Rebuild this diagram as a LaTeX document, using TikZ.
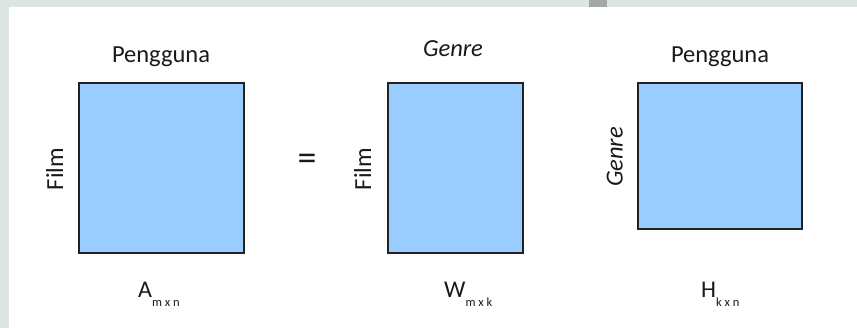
\documentclass[tikz,border=0pt]{standalone}
\usepackage{fontspec}
\setmainfont{Carlito}
\definecolor{bgc}{HTML}{DCE5DF}
\definecolor{blobc}{HTML}{A3A7A5}
\definecolor{matfill}{HTML}{99CCFF}
\definecolor{edgec}{HTML}{222222}
\definecolor{txt}{HTML}{1A1A1A}
\begin{document}
\begin{tikzpicture}[x=1pt,y=-1pt,
  mat/.style={draw=edgec, fill=matfill, line width=1.8pt, inner sep=0pt},
  lbl/.style={text=txt, inner sep=0pt, font=\fontsize{24.5}{27}\selectfont, anchor=base},
  vlbl/.style={lbl, rotate=90},
  matname/.style={text=txt, inner sep=0pt, font=\fontsize{24}{27}\selectfont, anchor=base west}]
\newcommand{\mysub}[1]{\raisebox{-9pt}{\fontsize{12.5}{12.5}\selectfont #1}}
\useasboundingbox (0,0) rectangle (857,328);
\fill[bgc] (0,0) rectangle (857,328);
\fill[blobc] (589,0) rectangle (607,7);
\fill[white] (9,7) rectangle (857,328);
% matrices
\node[mat, minimum width=165pt, minimum height=170pt] (A) at (161.5,168) {};
\node[mat, minimum width=135pt, minimum height=170pt] (W) at (455.5,168) {};
\node[mat, minimum width=164pt, minimum height=146pt] (H) at (720,156) {};
% top labels
\node[lbl] (Atop) at (161,63) {Pengguna};
\node[lbl] (Wtop) at (453,57) {\itshape Genre};
\node[lbl] (Htop) at (720,63) {Pengguna};
% side labels
\node[vlbl] (Aside) at (63,169) {Film};
\node[vlbl] (Wside) at (371,169) {Film};
\node[vlbl] (Hside) at (622.5,157) {\itshape Genre};
% equals
\node[text=txt, inner sep=0pt, font=\fontsize{38}{38}\selectfont] (eq) at (307,162) {=};
% names
\node[matname] (Aname) at (138,298) {A\mysub{m x n}};
\node[matname] (Wname) at (444,298) {W\mysub{m x k}};
\node[matname] (Hname) at (701,298) {H\mysub{k x n}};
\end{tikzpicture}
\end{document}
